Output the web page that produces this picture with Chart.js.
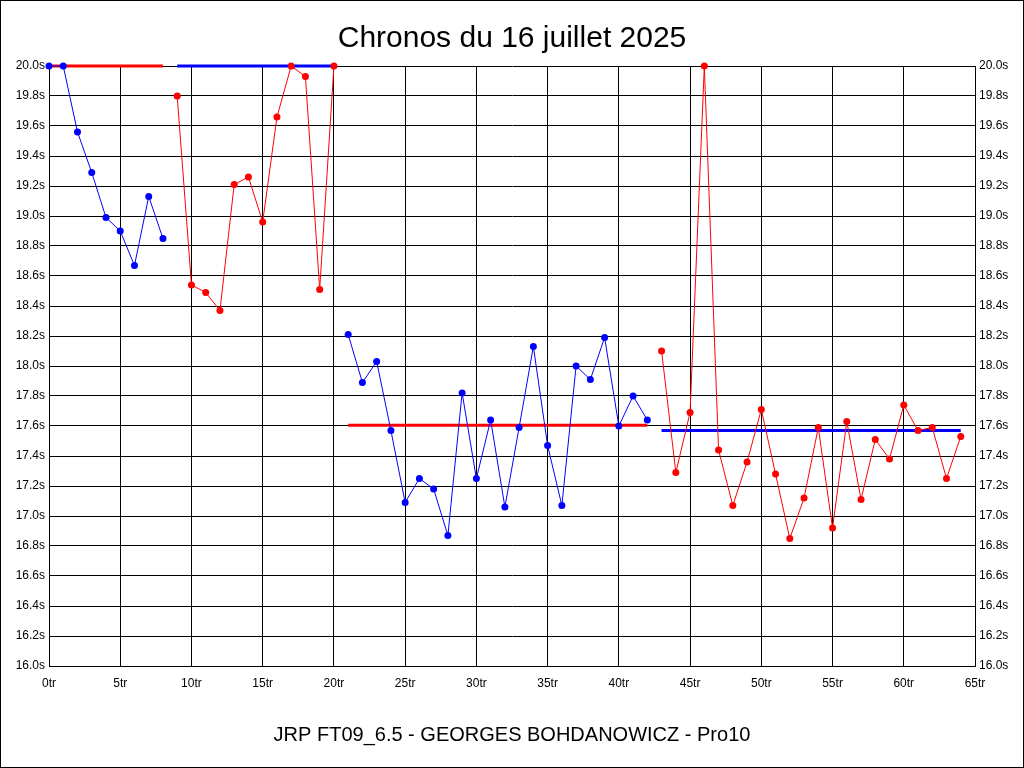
<!DOCTYPE html>
<html>
<head>
<meta charset="utf-8">
<script src="https://cdn.jsdelivr.net/npm/chart.js@4.4.1/dist/chart.umd.min.js"></script>
<style>
html,body{margin:0;padding:0;background:#fff;}
canvas{display:block;}
</style>
</head>
<body>
<canvas id="c" width="1024" height="768"></canvas>
<script>
// ---- data ----
const titleText = 'Chronos du 16 juillet 2025';
const xTitleText = 'JRP FT09_6.5 - GEORGES BOHDANOWICZ - Pro10';

const stint1Laps = [0,1,2,3,4,5,6,7,8];
const stint1Times = [20.0,20.0,19.56,19.29,18.99,18.90,18.67,19.13,18.85];

const stint2Laps = [9,10,11,12,13,14,15,16,17,18,19,20];
const stint2Times = [19.80,18.54,18.49,18.37,19.21,19.26,18.96,19.66,20.0,19.93,18.51,20.0];

const stint3Laps = [21,22,23,24,25,26,27,28,29,30,31,32,33,34,35,36,37,38,39,40,41,42];
const stint3Times = [18.21,17.89,18.03,17.57,17.09,17.25,17.18,16.87,17.82,17.25,17.64,17.06,17.59,18.13,17.47,17.07,18.00,17.91,18.19,17.60,17.80,17.64];

const stint4Laps = [43,44,45,46,47,48,49,50,51,52,53,54,55,56,57,58,59,60,61,62,63,64];
const stint4Times = [18.10,17.29,17.69,20.0,17.44,17.07,17.36,17.71,17.28,16.85,17.12,17.59,16.92,17.63,17.11,17.51,17.38,17.74,17.57,17.59,17.25,17.53];

const meanLaps = [[0,8],[9,20],[21,42],[43,64]];
const meanTimes = [20.0,20.0,17.605,17.57];

const xMin = 0, xMax = 65, xStep = 5;
const yMin = 16.0, yMax = 20.0, yStep = 0.2;

const RED = '#ff0000', BLUE = '#0000ff';
const stintColors = [BLUE, RED, BLUE, RED];
const meanColors = [RED, BLUE, RED, BLUE];

// ---- build ----
const pts = (laps, vals) => laps.map((l, i) => ({x: l, y: vals[i]}));
const stints = [[stint1Laps, stint1Times],[stint2Laps, stint2Times],[stint3Laps, stint3Times],[stint4Laps, stint4Times]];

const datasets = [];
stints.forEach((s, i) => {
  datasets.push({
    data: pts(s[0], s[1]),
    borderColor: stintColors[i],
    backgroundColor: stintColors[i],
    borderWidth: 1,
    pointRadius: 3.5,
    pointHoverRadius: 3.5,
    pointBorderWidth: 0,
    tension: 0,
    clip: false,
    order: 0
  });
});
meanLaps.forEach((m, i) => {
  datasets.push({
    data: m.map(l => ({x: l, y: meanTimes[i]})),
    borderColor: meanColors[i],
    backgroundColor: meanColors[i],
    borderWidth: 3,
    pointRadius: 0,
    tension: 0,
    clip: false,
    order: 1
  });
});

const FONT = "'Liberation Sans', Arial, sans-serif";

const framePlugin = {
  id: 'frame',
  afterDraw(chart) {
    const ctx = chart.ctx;
    ctx.save();
    ctx.strokeStyle = '#000';
    ctx.lineWidth = 1;
    ctx.strokeRect(0.5, 0.5, chart.width - 1, chart.height - 1);
    ctx.restore();
  }
};

new Chart(document.getElementById('c'), {
  type: 'line',
  data: { datasets },
  plugins: [framePlugin],
  options: {
    responsive: false,
    animation: false,
    devicePixelRatio: 1,
    layout: { padding: 0 },
    plugins: {
      legend: { display: false },
      tooltip: { enabled: false },
      title: {
        display: true,
        text: titleText,
        color: '#000',
        font: { family: FONT, size: 30, weight: 'normal', lineHeight: 1.2 },
        padding: { top: 21, bottom: 9 }
      }
    },
    scales: {
      x: {
        type: 'linear',
        min: xMin, max: xMax,
        afterFit(s) { s.height = 102; },
        ticks: {
          stepSize: xStep,
          color: '#000',
          font: { family: FONT, size: 12 },
          padding: 10,
          maxRotation: 0,
          callback: v => v + 'tr'
        },
        grid: { color: '#000', lineWidth: 1, drawTicks: false },
        border: { color: '#000', width: 1 },
        title: {
          display: true,
          text: xTitleText,
          color: '#000',
          font: { family: FONT, size: 20, weight: 'normal', lineHeight: 1.2 },
          padding: { top: 0, bottom: 21 }
        }
      },
      y: {
        type: 'linear',
        position: 'left',
        min: yMin, max: yMax,
        afterFit(s) { s.width = 49; },
        ticks: {
          stepSize: yStep,
          color: '#000',
          font: { family: FONT, size: 12 },
          padding: 4,
          callback: v => v.toFixed(1) + 's'
        },
        grid: { color: '#000', lineWidth: 1, drawTicks: false },
        border: { color: '#000', width: 1 }
      },
      y2: {
        type: 'linear',
        position: 'right',
        min: yMin, max: yMax,
        afterFit(s) { s.width = 49; },
        ticks: {
          stepSize: yStep,
          color: '#000',
          font: { family: FONT, size: 12 },
          padding: 4,
          callback: v => v.toFixed(1) + 's'
        },
        grid: { display: false, drawTicks: false },
        border: { color: '#000', width: 1 }
      }
    }
  }
});
</script>
</body>
</html>
